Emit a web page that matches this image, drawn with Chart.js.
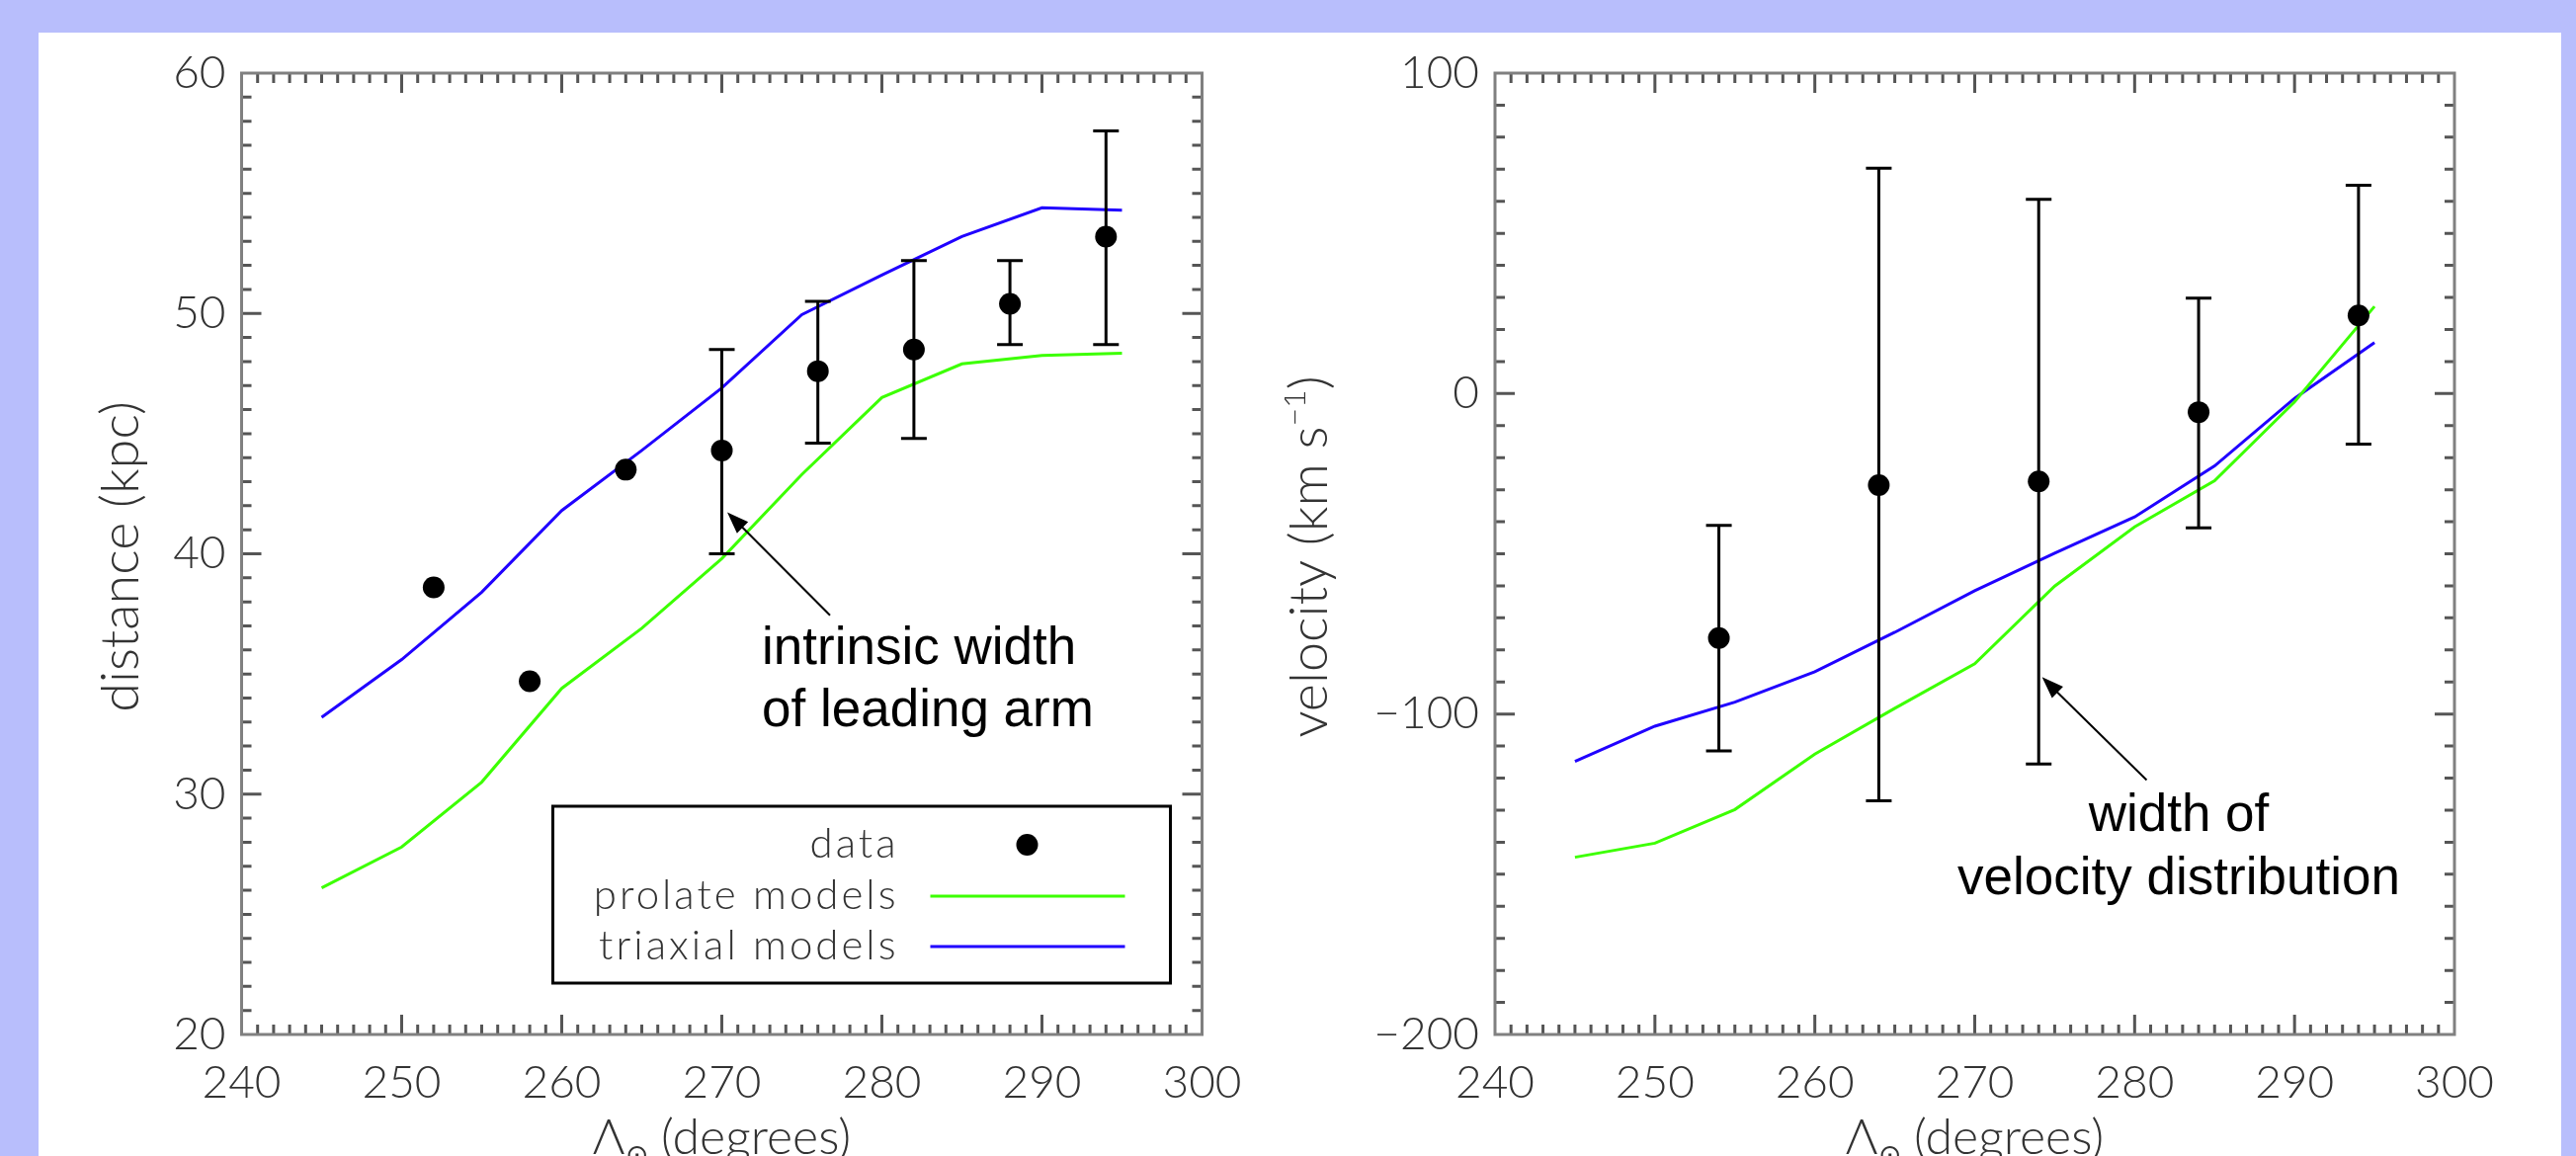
<!DOCTYPE html>
<html>
<head>
<meta charset="utf-8">
<script src="https://cdn.jsdelivr.net/npm/chart.js@4.4.0/dist/chart.umd.min.js"></script>
<style>
  html, body { margin: 0; padding: 0; }
  body { width: 2607px; height: 1170px; overflow: hidden; background: #b8befc; position: relative; }
  #panel { position: absolute; left: 39px; top: 33px; width: 2553px; height: 1200px; background: #fff; }
  canvas { position: absolute; top: 0; }
  #distChart { left: 0; }
  #velChart { left: 1300px; }
</style>
</head>
<body>
<div id="panel"></div>
<canvas id="distChart" width="1300" height="1200"></canvas>
<canvas id="velChart" width="1307" height="1200"></canvas>
<script>
// tick labels
const xTickValues = [240, 250, 260, 270, 280, 290, 300];
const distTickValues = [20, 30, 40, 50, 60];
const velTickValues = [-200, -100, 0, 100];

const seriesLabels = ['data', 'prolate models', 'triaxial models'];

// model curves, sampled every 5 degrees
const modelLambda = [245, 250, 255, 260, 265, 270, 275, 280, 285, 290, 295];
const distProlate = [26.1, 27.8, 30.5, 34.4, 36.9, 39.8, 43.3, 46.5, 47.9, 48.25, 48.35];
const distTriaxial = [33.2, 35.6, 38.4, 41.8, 44.3, 46.9, 49.95, 51.6, 53.2, 54.4, 54.3];
const velProlate = [-144.7, -140.3, -129.8, -112.5, -98.2, -84.3, -60.1, -41.6, -27.2, -2.6, 27.2];
const velTriaxial = [-114.8, -103.8, -96.3, -86.8, -74.5, -61.5, -49.8, -38.5, -22.6, -1.5, 15.9];

// observed points
const distLambda = [252, 258, 264, 270, 276, 282, 288, 294];
const distValues = [38.6, 34.7, 43.5, 44.3, 47.6, 48.5, 50.4, 53.2];
const distErrLow = [null, null, null, 40.0, 44.6, 44.8, 48.7, 48.7];
const distErrHigh = [null, null, null, 48.5, 50.5, 52.2, 52.2, 57.6];

const velLambda = [254, 264, 274, 284, 294];
const velValues = [-76.3, -28.6, -27.4, -5.8, 24.4];
const velErrLow = [-111.5, -127.1, -115.6, -41.9, -15.8];
const velErrHigh = [-41.1, 70.3, 60.6, 29.8, 65.0];

const GREEN = '#3cff00';
const BLUE = '#2000ff';
const TEXT = '#333';
const thin = s => `300 ${s}px Lato, "DejaVu Sans", sans-serif`;
const NOTE_FONT = '53px "Liberation Sans", Arial, sans-serif';

const pts = (xs, ys) => xs.map((x, i) => ({ x: x, y: ys[i] }));

function drawParts(ctx, parts, cx, by) {
  let w = 0;
  parts.forEach(p => { ctx.font = p.font; w += ctx.measureText(p.t).width; });
  let x = cx - w / 2;
  ctx.textAlign = 'left';
  ctx.textBaseline = 'alphabetic';
  parts.forEach(p => {
    ctx.font = p.font;
    ctx.fillText(p.t, x, by + (p.dy || 0));
    x += ctx.measureText(p.t).width;
  });
}

function arrow(ctx, x1, y1, x2, y2) {
  const a = Math.atan2(y2 - y1, x2 - x1), L = 22, W = 8;
  const c = Math.cos(a), s = Math.sin(a);
  ctx.beginPath();
  ctx.moveTo(x1, y1);
  ctx.lineTo(x2 - L * 0.7 * c, y2 - L * 0.7 * s);
  ctx.stroke();
  ctx.beginPath();
  ctx.moveTo(x2, y2);
  ctx.lineTo(x2 - L * c + W * s, y2 - L * s - W * c);
  ctx.lineTo(x2 - L * c - W * s, y2 - L * s + W * c);
  ctx.closePath();
  ctx.fill();
}

// IDL-style box: inward ticks on all sides, error bars, legend, notes, titles
const idlBox = {
  id: 'idlBox',
  afterDatasetsDraw(chart, args, o) {
    const ctx = chart.ctx, xs = chart.scales.x, ys = chart.scales.y;
    ctx.save();
    ctx.strokeStyle = '#000';
    ctx.lineWidth = 3;
    o.err.x.forEach((xv, i) => {
      if (o.err.lo[i] == null) return;
      const px = xs.getPixelForValue(xv);
      const p1 = ys.getPixelForValue(o.err.lo[i]);
      const p2 = ys.getPixelForValue(o.err.hi[i]);
      ctx.beginPath();
      ctx.moveTo(px, p1); ctx.lineTo(px, p2);
      ctx.moveTo(px - 13, p1); ctx.lineTo(px + 13, p1);
      ctx.moveTo(px - 13, p2); ctx.lineTo(px + 13, p2);
      ctx.stroke();
    });
    ctx.restore();
  },
  afterDraw(chart, args, o) {
    const ctx = chart.ctx, ca = chart.chartArea;
    const xs = chart.scales.x, ys = chart.scales.y;
    ctx.save();

    const tickRun = (scale, minor, major, draw) => {
      const n = Math.round((scale.max - scale.min) / minor);
      for (let i = 1; i < n; i++) {
        const v = scale.min + i * minor;
        const len = Math.abs(v / major - Math.round(v / major)) < 1e-6 ? 20 : 10;
        draw(scale.getPixelForValue(v), len);
      }
    };
    ctx.lineWidth = 3;
    ctx.strokeStyle = '#555';
    ctx.beginPath();
    tickRun(xs, o.xMinor, o.xMajor, (p, len) => {
      ctx.moveTo(p, ca.bottom); ctx.lineTo(p, ca.bottom - len);
      ctx.moveTo(p, ca.top); ctx.lineTo(p, ca.top + len);
    });
    tickRun(ys, o.yMinor, o.yMajor, (p, len) => {
      ctx.moveTo(ca.left, p); ctx.lineTo(ca.left + len, p);
      ctx.moveTo(ca.right, p); ctx.lineTo(ca.right - len, p);
    });
    ctx.stroke();
    ctx.strokeStyle = '#808080';
    ctx.strokeRect(ca.left, ca.top, ca.right - ca.left, ca.bottom - ca.top);

    // legend box
    if (o.legend) {
      const w = 625, h = 179;
      const bx = ca.right - 32 - w, by = ca.bottom - 52 - h;
      ctx.strokeStyle = '#000';
      ctx.lineWidth = 3;
      ctx.strokeRect(bx, by, w, h);
      const rows = [39, 91, 142];
      chart.data.datasets.forEach((ds, i) => {
        const ry = by + rows[i];
        ctx.fillStyle = TEXT;
        ctx.font = thin(42);
        ctx.letterSpacing = '3px';
        ctx.textAlign = 'right';
        ctx.textBaseline = 'alphabetic';
        ctx.fillText(ds.label, bx + 350, ry + 13);
        ctx.letterSpacing = '0px';
        if (ds.showLine) {
          ctx.strokeStyle = ds.borderColor;
          ctx.lineWidth = 3;
          ctx.beginPath();
          ctx.moveTo(bx + 382, ry); ctx.lineTo(bx + 579, ry);
          ctx.stroke();
        } else {
          ctx.fillStyle = '#000';
          ctx.beginPath();
          ctx.arc(bx + 480, ry, 11, 0, Math.PI * 2);
          ctx.fill();
        }
      });
    }

    // annotation with arrow
    const n = o.note;
    ctx.fillStyle = '#000';
    ctx.strokeStyle = '#000';
    ctx.lineWidth = 2;
    arrow(ctx, xs.getPixelForValue(n.from[0]), ys.getPixelForValue(n.from[1]),
      xs.getPixelForValue(n.to[0]), ys.getPixelForValue(n.to[1]));
    ctx.font = NOTE_FONT;
    ctx.textAlign = n.align;
    ctx.textBaseline = 'alphabetic';
    n.lines.forEach((t, i) => {
      ctx.fillText(t, xs.getPixelForValue(n.x), ys.getPixelForValue(n.y[i]));
    });

    // axis titles
    ctx.fillStyle = TEXT;
    drawParts(ctx, [
      { t: '\u039B', font: thin(50) },
      { t: '\u2299', font: thin(28), dy: 10 },
      { t: ' (degrees)', font: thin(50) }
    ], (ca.left + ca.right) / 2, ca.bottom + 121);

    ctx.translate(o.yTitleX, (ca.top + ca.bottom) / 2 + 3);
    ctx.rotate(-Math.PI / 2);
    drawParts(ctx, o.yTitle, 0, 0);
    ctx.restore();
  }
};

function buildChart(id, o) {
  return new Chart(document.getElementById(id), {
    type: 'scatter',
    data: {
      datasets: [
        { label: seriesLabels[0], data: o.points, showLine: false, pointRadius: 11,
          pointBackgroundColor: '#000', pointBorderWidth: 0, order: 0 },
        { label: seriesLabels[1], data: o.prolate, showLine: true, borderColor: GREEN,
          borderWidth: 3, pointRadius: 0, order: 1 },
        { label: seriesLabels[2], data: o.triaxial, showLine: true, borderColor: BLUE,
          borderWidth: 3, pointRadius: 0, order: 2 }
      ]
    },
    options: {
      responsive: false,
      animation: false,
      devicePixelRatio: 1,
      events: [],
      layout: { padding: { left: 0, top: 74, right: o.padRight, bottom: 53 } },
      scales: {
        x: {
          type: 'linear', min: 240, max: 300,
          grid: { display: false, drawTicks: false },
          border: { display: false },
          afterBuildTicks: s => { s.ticks = xTickValues.map(v => ({ value: v })); },
          afterFit: s => { s.height = 100; },
          ticks: { padding: 26, color: TEXT, autoSkip: false, maxRotation: 0,
            font: { family: 'Lato', size: 46, weight: '300', lineHeight: 1 } }
        },
        y: {
          type: 'linear', min: o.yMin, max: o.yMax,
          grid: { display: false, drawTicks: false },
          border: { display: false },
          afterBuildTicks: s => { s.ticks = o.yTicks.map(v => ({ value: v })); },
          afterFit: s => { s.width = o.yWidth; },
          ticks: { padding: 16, color: TEXT, autoSkip: false,
            font: { family: 'Lato', size: 46, weight: '300', lineHeight: 1 },
            callback: v => String(v).replace('-', '\u2212') }
        }
      },
      plugins: {
        legend: { display: false },
        tooltip: { enabled: false },
        idlBox: o.box
      }
    },
    plugins: [idlBox]
  });
}

buildChart('distChart', {
  points: pts(distLambda, distValues),
  prolate: pts(modelLambda, distProlate),
  triaxial: pts(modelLambda, distTriaxial),
  yMin: 20, yMax: 60, yTicks: distTickValues,
  yWidth: 244.5, padRight: 83.5,
  box: {
    err: { x: distLambda, lo: distErrLow, hi: distErrHigh },
    xMinor: 1, xMajor: 10, yMinor: 1, yMajor: 10,
    legend: true,
    note: { lines: ['intrinsic width', 'of leading arm'], x: 272.5, y: [35.42, 32.83], align: 'left',
      from: [276.76, 37.44], to: [270.34, 41.73] },
    yTitleX: 140,
    yTitle: [{ t: 'distance (kpc)', font: thin(54) }]
  }
});

buildChart('velChart', {
  points: pts(velLambda, velValues),
  prolate: pts(modelLambda, velProlate),
  triaxial: pts(modelLambda, velTriaxial),
  yMin: -200, yMax: 100, yTicks: velTickValues,
  yWidth: 213, padRight: 123,
  box: {
    err: { x: velLambda, lo: velErrLow, hi: velErrHigh },
    xMinor: 1, xMajor: 10, yMinor: 10, yMajor: 100,
    legend: false,
    note: { lines: ['width of', 'velocity distribution'], x: 282.76, y: [-136.5, -156.2], align: 'center',
      from: [280.75, -120.6], to: [274.21, -88.5] },
    yTitleX: 43,
    yTitle: [
      { t: 'velocity (km s', font: thin(54) },
      { t: '\u22121', font: thin(32), dy: -22 },
      { t: ')', font: thin(54) }
    ]
  }
});
</script>
</body>
</html>
